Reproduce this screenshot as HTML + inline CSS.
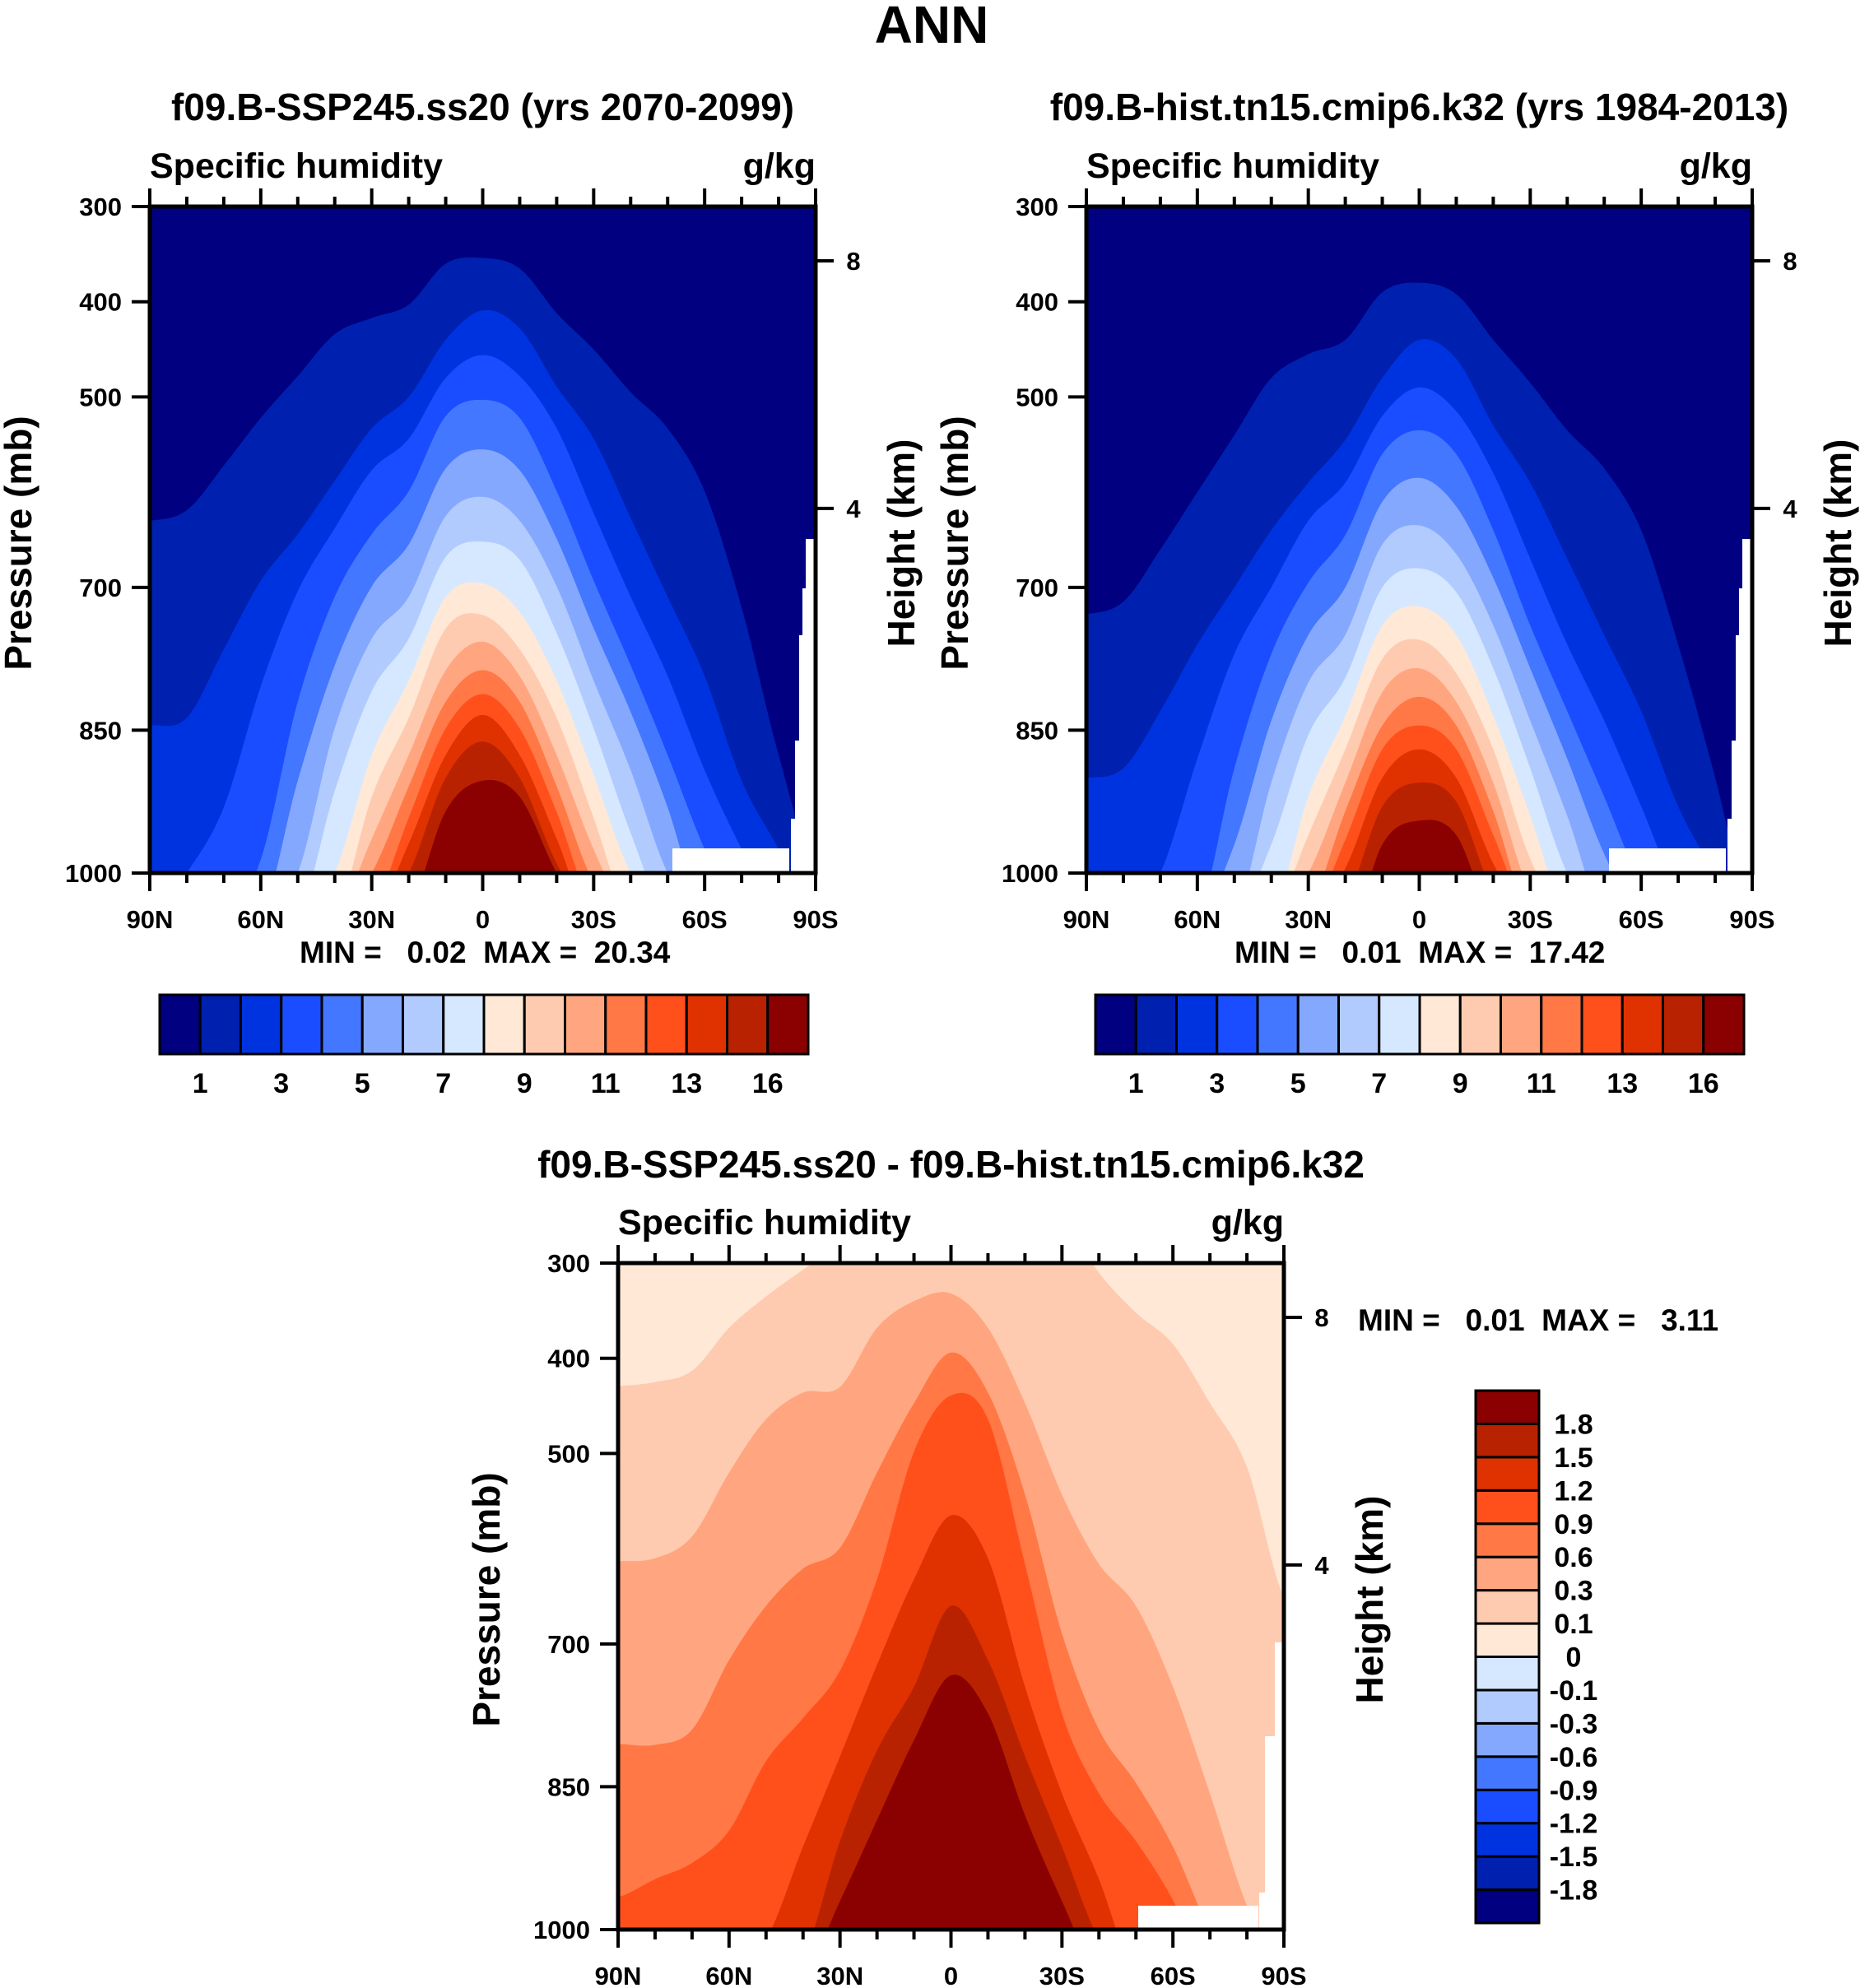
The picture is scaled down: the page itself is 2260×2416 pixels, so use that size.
<!DOCTYPE html>
<html><head><meta charset="utf-8"><style>
html,body{margin:0;padding:0;background:#fff}
svg{display:block}
text{font-family:"Liberation Sans",sans-serif;font-weight:bold;fill:#000}
</style></head><body>
<svg id="fig" width="2260" height="2416" viewBox="0 0 2260 2416" xmlns="http://www.w3.org/2000/svg">
<text x="1132" y="52" font-size="64" text-anchor="middle">ANN</text>
</svg>
<script>
// latitudes of profile points (90N .. 90S)
const lats = [90,80,70,60,50,40,30,20,10,0,-10,-20,-30,-40,-50,-60,-70,-80,-90];
const X = 1050; // below axis: level absent
// top-pressure (mb) of each filled level region, left panel (SSP245)
const sspL1 = [630,619,572,522,478,434,417,403,360,354,365,412,450,495,533,599,721,876,1000];
const sspL2 = [845,837,765,693,644,588,533,500,440,409,428,489,544,627,710,793,903,975,X];
const sspL3 = [X,1000,931,804,704,638,577,544,480,456,478,533,622,710,793,892,975,X,X];
const sspL4 = [X,X,X,986,820,710,644,599,520,503,522,599,693,782,876,975,X,X,X];
const sspL5 = [X,X,X,X,903,782,699,655,575,555,577,649,743,831,931,X,X,X,X];
const sspL6 = [X,X,X,X,1000,848,754,710,625,605,630,699,798,892,1000,X,X,X,X];
const sspL7 = [X,X,X,X,X,914,809,754,668,652,671,748,848,958,X,X,X,X,X];
const sspL8 = [X,X,X,X,X,1000,876,798,710,696,726,798,897,1000,X,X,X,X,X];
const sspL9 = [X,X,X,X,X,X,920,837,743,729,765,837,942,X,X,X,X,X,X];
const sspL10 = [X,X,X,X,X,X,964,876,787,757,793,876,975,X,X,X,X,X,X];
const sspL11 = [X,X,X,X,X,X,1000,909,820,787,820,909,1010,X,X,X,X,X,X];
const sspL12 = [X,X,X,X,X,X,1040,942,848,812,848,936,1040,X,X,X,X,X,X];
const sspL13 = [X,X,X,X,X,X,X,969,876,834,876,964,1060,X,X,X,X,X,X];
const sspL14 = [X,X,X,X,X,X,X,1000,900,862,900,990,X,X,X,X,X,X,X];
const sspL15 = [X,X,X,X,X,X,X,1040,935,903,920,1000,1060,X,X,X,X,X,X];
// right panel (hist)
const hisL1 = [728,715,660,600,540,480,455,440,390,380,392,440,485,535,575,640,760,900,X];
const hisL2 = [900,890,830,760,700,640,590,545,480,440,460,530,590,670,750,830,930,1000,X];
const hisL3 = [X,X,1000,880,770,700,630,590,520,490,515,580,670,760,840,930,1020,X,X];
const hisL4 = [X,X,X,X,890,770,695,645,560,535,560,640,740,830,920,1010,X,X,X];
const hisL5 = [X,X,X,X,970,840,750,700,610,585,615,690,785,880,980,X,X,X,X];
const hisL6 = [X,X,X,X,X,905,800,750,655,635,665,740,840,940,X,X,X,X,X];
const hisL7 = [X,X,X,X,X,970,855,795,700,680,705,785,890,1000,X,X,X,X,X];
const hisL8 = [X,X,X,X,X,X,920,835,740,720,750,835,940,X,X,X,X,X,X];
const hisL9 = [X,X,X,X,X,X,960,870,775,755,790,870,985,X,X,X,X,X,X];
const hisL10 = [X,X,X,X,X,X,1000,905,810,785,820,905,1020,X,X,X,X,X,X];
const hisL11 = [X,X,X,X,X,X,1040,935,845,815,845,935,X,X,X,X,X,X,X];
const hisL12 = [X,X,X,X,X,X,X,965,870,845,870,960,X,X,X,X,X,X,X];
const hisL13 = [X,X,X,X,X,X,X,995,900,870,900,990,X,X,X,X,X,X,X];
const hisL14 = [X,X,X,X,X,X,X,1030,930,905,925,1020,X,X,X,X,X,X,X];
const hisL15 = [X,X,X,X,X,X,X,1080,970,945,960,X,X,X,X,X,X,X,X];
// difference panel
const difL1 = [429,425,413,368,335,307,280,250,250,250,250,250,250,310,352,385,447,514,650];
const difL2 = [613,610,587,520,464,436,430,368,340,332,368,447,543,616,660,745,857,975,X];
const difL3 = [805,806,790,717,660,621,599,520,447,394,436,543,689,790,846,913,1000,X,X];
const difL4 = [966,947,930,896,823,778,728,632,498,439,464,616,773,857,907,969,X,X,X];
const difL5 = [X,X,X,1040,1010,913,818,722,632,565,610,745,857,947,X,X,X,X,X];
const difL6 = [X,X,X,X,X,1030,907,812,745,660,717,818,913,1010,X,X,X,X,X];
const difL7 = [X,X,X,X,X,X,970,885,801,733,773,880,970,X,X,X,X,X,X];
// colour scale
const colors = ["#000080","#0020b0","#0033e0","#1a4dff","#4477ff","#85a8ff","#b2cbff","#d6e8ff","#ffe9d6","#ffcbb0","#ffa680","#ff7845","#ff501c","#e03100","#b82200","#8b0000"];
const absLevels = ["1","2","3","4","5","6","7","8","9","10","11","12","13","14","16"];
const absLabelIdx = [0,2,4,6,8,10,12,14];
const difLevels = ["-1.8","-1.5","-1.2","-0.9","-0.6","-0.3","-0.1","0","0.1","0.3","0.6","0.9","1.2","1.5","1.8"];
const pTicks = [300,400,500,700,850,1000];
const hTicks = [[8,357],[4,617]];
const latTicks = [[90,"90N"],[60,"60N"],[30,"30N"],[0,"0"],[-30,"30S"],[-60,"60S"],[-90,"90S"]];

const svg = document.getElementById('fig');
const NS = "http://www.w3.org/2000/svg";
function mk(tag, attrs, parent){ const e=document.createElementNS(NS,tag); for(const k in attrs) e.setAttribute(k,attrs[k]); (parent||svg).appendChild(e); return e; }
function txt(s, attrs, parent){ const e=mk('text',attrs,parent); e.textContent=s; return e; }

function smooth(pts){
  let d = "M"+pts[0][0]+","+pts[0][1];
  for(let i=0;i<pts.length-1;i++){
    const p0=pts[Math.max(0,i-1)],p1=pts[i],p2=pts[i+1],p3=pts[Math.min(pts.length-1,i+2)];
    const c1=[p1[0]+(p2[0]-p0[0])/6,p1[1]+(p2[1]-p0[1])/6];
    const c2=[p2[0]-(p3[0]-p1[0])/6,p2[1]-(p3[1]-p1[1])/6];
    d+=" C"+c1[0].toFixed(1)+","+c1[1].toFixed(1)+" "+c2[0].toFixed(1)+","+c2[1].toFixed(1)+" "+p2[0].toFixed(1)+","+p2[1].toFixed(1);
  }
  return d;
}

function panel(id, x0, x1, y0, y1, base, levels, startColor, whites, o){
  const xs = lat => x0 + (90-lat)/180*(x1-x0);
  const ys = p => y0 + (p-300)/700*(y1-y0);
  const g = mk('g',{});
  
  
  const cp = mk('clipPath',{id:id+'clip'},g);
  mk('rect',{x:x0,y:y0,width:x1-x0,height:y1-y0},cp);
  const fg = mk('g',{'clip-path':'url(#'+id+'clip)'},g);
  const bg = mk('rect',{x:x0,y:y0,width:x1-x0,height:y1-y0,fill:base},fg);
  
  
  levels.forEach((arr,k)=>{
    const pts = arr.map((p,i)=>[xs(lats[i]), ys(p)]);
    pts.unshift([xs(lats[0])-40, ys(arr[0])]);
    pts.push([xs(lats[lats.length-1])+40, ys(arr[arr.length-1])]);
    let d = smooth(pts)+" L"+(x1+40)+","+(y1+60)+" L"+(x0-40)+","+(y1+60)+" Z";
    const path = mk('path',{d:d,fill:colors[startColor+k]},fg);
    
    
  });
  whites.forEach(w=>{
    const r = mk('rect',{x:w[0],y:w[1],width:w[2],height:w[3],fill:'#fff'},fg);
    
    
  });
  const ax = mk('g',{stroke:'#000','stroke-width':5,fill:'none'},g);
  mk('rect',{x:x0,y:y0,width:x1-x0,height:y1-y0},ax);
  for(let lat=90;lat>=-90;lat-=10){
    const major = lat%30===0; const L = major?22:12;
    const x = xs(lat);
    mk('line',{x1:x,y1:y1,x2:x,y2:y1+L,'stroke-width':4},ax);
    mk('line',{x1:x,y1:y0,x2:x,y2:y0-L,'stroke-width':4},ax);
  }
  pTicks.forEach(p=>{
    mk('line',{x1:x0,y1:ys(p),x2:x0-22,y2:ys(p),'stroke-width':4},ax);
    const t = txt(String(p),{x:x0-34,y:ys(p)+11,'font-size':31,'text-anchor':'end'},g);
    
    
  });
  hTicks.forEach(h=>{
    mk('line',{x1:x1,y1:ys(h[1]),x2:x1+22,y2:ys(h[1]),'stroke-width':4},ax);
    const t = txt(String(h[0]),{x:x1+46,y:ys(h[1])+11,'font-size':31,'text-anchor':'middle'},g);
    
    
  });
  latTicks.forEach(l=>{
    const t = txt(l[1],{x:xs(l[0]),y:y1+67,'font-size':31,'text-anchor':'middle'},g);
    
    
  });
  const sh = txt("Specific humidity",{x:x0,y:y0-35,'font-size':43},g);
  
  
  const un = txt("g/kg",{x:x1,y:y0-35,'font-size':43,'text-anchor':'end'},g);
  
  
  const py = (y0+y1)/2 + 4;
  const pl = txt("Pressure (mb)",{x:0,y:0,'font-size':46,'text-anchor':'middle',transform:'translate('+(x0-144)+','+py+') rotate(-90)'},g);
  
  
  const hl = txt("Height (km)",{x:0,y:0,'font-size':46,'text-anchor':'middle',transform:'translate('+(x1+120)+','+py+') rotate(-90)'},g);
  
  
  const ti = txt(o.title,{x:(x0+x1)/2,y:o.ty,'font-size':46,'text-anchor':'middle'},g);
  
  
}

function stripWhites(x0,x1,y1){
  return [[817+(x0-182),1031,142,40],[x1-12,655,30,420],[x1-16,715,30,360],[x1-20,772,30,300],[x1-25,900,30,180],[x1-30,995,30,80]];
}

panel('ssp',182,991,251,1061,colors[0],[sspL1,sspL2,sspL3,sspL4,sspL5,sspL6,sspL7,sspL8,sspL9,sspL10,sspL11,sspL12,sspL13,sspL14,sspL15],1,stripWhites(182,991,1061),{title:"f09.B-SSP245.ss20 (yrs 2070-2099)",ty:146});
panel('hist',1320,2129,251,1061,colors[0],[hisL1,hisL2,hisL3,hisL4,hisL5,hisL6,hisL7,hisL8,hisL9,hisL10,hisL11,hisL12,hisL13,hisL14,hisL15],1,stripWhites(1320,2129,1061),{title:"f09.B-hist.tn15.cmip6.k32 (yrs 1984-2013)",ty:146});
panel('diff',751,1560,1535,2345,colors[8],[difL1,difL2,difL3,difL4,difL5,difL6,difL7],9,[[1383,2316,146,40],[1549,1996,20,360],[1537,2110,30,240],[1530,2300,40,60]],{title:"f09.B-SSP245.ss20 - f09.B-hist.tn15.cmip6.k32",ty:1431});

// min/max
[["MIN =   0.02  MAX =  20.34",364,1170],["MIN =   0.01  MAX =  17.42",1500,1170],["MIN =   0.01  MAX =   3.11",1650,1617]].forEach(m=>{
  const t = txt(m[0],{x:m[1],y:m[2],'font-size':37});
  
  
  t.style.whiteSpace='pre';
});

// horizontal colorbars
function hbar(x0,x1,y0,y1,name){
  const g=mk('g',{});
  
  
  const w=(x1-x0)/colors.length;
  colors.forEach((c,i)=>{
    const r=mk('rect',{x:x0+i*w,y:y0,width:w,height:y1-y0,fill:c,stroke:'#000','stroke-width':3},g);
    
    
  });
  absLabelIdx.forEach(i=>{
    const t=txt(absLevels[i],{x:x0+(i+1)*w,y:y1+47,'font-size':34,'text-anchor':'middle'},g);
    
    
  });
}
hbar(194,982,1209,1281,'ssp-colorbar');
hbar(1331,2119,1209,1281,'hist-colorbar');
// vertical colorbar
(function(){
  const x0=1793,x1=1870,y0=1690,y1=2337;
  const g=mk('g',{});
  
  
  const h=(y1-y0)/colors.length;
  colors.forEach((c,i)=>{
    const r=mk('rect',{x:x0,y:y1-(i+1)*h,width:x1-x0,height:h,fill:c,stroke:'#000','stroke-width':3},g);
    
    
  });
  difLevels.forEach((s,i)=>{
    const t=txt(s,{x:1912,y:y1-(i+1)*h+12,'font-size':34,'text-anchor':'middle'},g);
    
    
  });
})();
</script>
</body></html>
